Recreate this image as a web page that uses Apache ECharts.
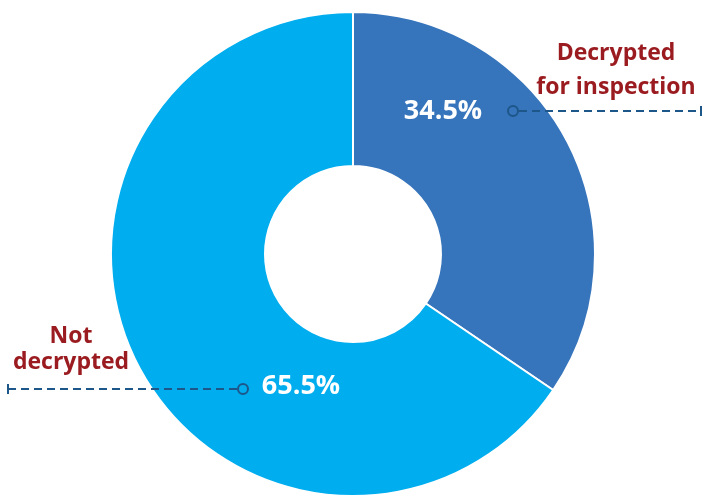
<!DOCTYPE html>
<html>
<head>
<meta charset="utf-8">
<script src="https://cdn.jsdelivr.net/npm/echarts@6/dist/echarts.min.js"></script>
<style>html,body{margin:0;padding:0;background:#fff}#c{width:703px;height:496px}</style>
</head>
<body>
<div id="c"></div>
<script>
const categories = ['Decrypted\nfor inspection', 'Not\ndecrypted'];
const values = [34.5, 65.5];
const colors = ['#3674BB', '#00ADEE'];

const CX = 353, CY = 254, R_IN = 88, R_OUT = 242;
const LABEL_RED = '#9B1C20';
const LINE_BLUE = '#1D5689';
const FONT = '"Open Sans", sans-serif';

const chart = echarts.init(document.getElementById('c'), null, {renderer: 'canvas'});

function dashed(points) {
  return {type: 'polyline', z: 100, shape: {points: points}, silent: true,
    style: {stroke: LINE_BLUE, lineWidth: 2, lineDash: [8, 5], fill: null}};
}
function ring(x, y) {
  return {type: 'circle', z: 101, shape: {cx: x, cy: y, r: 5}, silent: true,
    style: {stroke: LINE_BLUE, lineWidth: 2, fill: 'rgba(0,0,0,0)'}};
}
function tick(x, y) {
  return {type: 'line', z: 100, shape: {x1: x, y1: y - 5, x2: x, y2: y + 5}, silent: true,
    style: {stroke: LINE_BLUE, lineWidth: 2}};
}
function label(text, x, y, lh) {
  return {type: 'text', z: 100, x: x, y: y, silent: true,
    style: {text: text, fill: LABEL_RED, font: 'bold 23px ' + FONT,
      align: 'center', verticalAlign: 'top', lineHeight: lh}};
}

const option = {
  animation: false,
  backgroundColor: '#ffffff',
  series: [{
    type: 'pie',
    z: 2,
    center: [CX, CY],
    radius: [R_IN, R_OUT],
    startAngle: 90,
    clockwise: true,
    avoidLabelOverlap: false,
    itemStyle: {borderColor: '#ffffff', borderWidth: 2},
    label: {
      show: true, position: 'inside',
      formatter: p => p.value.toFixed(1) + '%',
      color: '#ffffff', fontFamily: FONT, fontWeight: 'bold', fontSize: 27,
      align: 'center', verticalAlign: 'middle'
    },
    labelLine: {show: false},
    labelLayout: function (p) {
      return p.dataIndex === 0 ? {x: 443, y: 111, align: 'center', verticalAlign: 'middle'}
                               : {x: 301, y: 386, align: 'center', verticalAlign: 'middle'};
    },
    data: categories.map((c, i) => ({name: c, value: values[i], itemStyle: {color: colors[i]}}))
  }],
  graphic: [
    dashed([[519, 111], [701, 111]]), ring(513, 111), tick(701, 111),
    dashed([[8, 389], [237, 389]]), ring(243, 389), tick(8, 389),
    label(categories[0], 616, 36, 34),
    label(categories[1], 71, 323, 26)
  ]
};
chart.setOption(option);
</script>
</body>
</html>
